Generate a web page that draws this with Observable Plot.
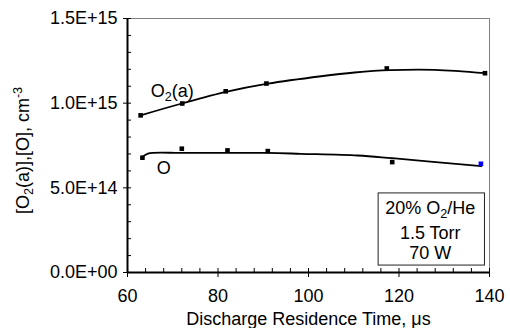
<!DOCTYPE html>
<html><head><meta charset="utf-8">
<script src="https://cdn.jsdelivr.net/npm/d3@7"></script>
<script src="https://cdn.jsdelivr.net/npm/@observablehq/plot@0.6"></script>
<style>body{margin:0;background:#fff}</style>
</head><body><div id="chart"></div>
<script>
// measured points
const o2aTime = [62.9, 72.1, 81.7, 90.7, 117.3, 139.0];
const o2aDensity = [9.28e14, 9.98e14, 10.70e14, 11.16e14, 12.05e14, 11.77e14];
const oTime = [63.3, 72.0, 82.1, 91.0, 118.5, 138.1];
const oDensity = [6.78e14, 7.31e14, 7.21e14, 7.17e14, 6.52e14, 6.42e14];
const oPointColor = ["black", "black", "black", "black", "black", "#0000ff"];
// trend curves
const o2aFitTime = [62.9, 72, 82, 91, 102.8, 110.2, 118, 127.9, 139.0];
const o2aFitValue = [9.28e14, 9.98e14, 10.68e14, 11.15e14, 11.59e14, 11.81e14, 11.95e14, 11.97e14, 11.77e14];
const oFitTime = [63.3, 64.5, 72, 82, 91, 98.3, 110.9, 118.5, 138.2];
const oFitValue = [6.81e14, 7.02e14, 7.06e14, 7.07e14, 7.06e14, 7.01e14, 6.91e14, 6.75e14, 6.28e14];
// ticks
const xTicks = [60, 80, 100, 120, 140];
const xMinorTicks = d3.range(60, 141, 4);
const yTicks = [0, 5e14, 1e15, 1.5e15];
const yMinorTicks = d3.range(0, 1.5e15 + 1, 1e14);
// annotations (data space)
const seriesLabels = [{x: 69.9, y: 10.72e14, text: "O2(a)"}, {x: 68.0, y: 6.14e14, text: "O"}];
const noteBox = [{x1: 115.5, x2: 139.0, y1: 0.41e14, y2: 4.67e14}];
const noteLines = [{x: 126.9, y: 3.77e14, text: "20% O2/He"}, {x: 126.9, y: 2.33e14, text: "1.5 Torr"}, {x: 126.9, y: 1.12e14, text: "70 W"}];

const o2aPts = o2aTime.map((t, i) => ({t, v: o2aDensity[i]}));
const oPts = oTime.map((t, i) => ({t, v: oDensity[i], c: oPointColor[i]}));
const o2aFit = o2aFitTime.map((t, i) => ({t, v: o2aFitValue[i]}));
const oFit = oFitTime.map((t, i) => ({t, v: oFitValue[i]}));

const fmtY = d => d === 0 ? "0.0E+00" : d.toExponential(1).toUpperCase();

const plot = Plot.plot({
  width: 510, height: 328,
  marginTop: 18, marginRight: 21, marginBottom: 56, marginLeft: 127,
  style: {fontSize: "18px", fontFamily: "'Liberation Sans', Arial, sans-serif", background: "white", overflow: "visible"},
  x: {domain: [60, 140]},
  y: {domain: [0, 1.5e15]},
  marks: [
    Plot.frame({stroke: "#808080"}),
    Plot.axisX({ticks: xMinorTicks, tickSize: 4, dy: -4, tickFormat: () => "", label: null}),
    Plot.axisY({ticks: yMinorTicks, tickSize: 4, dx: 4, tickFormat: () => "", label: null}),
    Plot.axisX({ticks: xTicks, tickSize: 5, tickPadding: 12, label: null, tickFormat: d => String(d)}),
    Plot.axisY({ticks: yTicks, tickSize: 4, tickPadding: 6, label: null, tickFormat: fmtY}),
    Plot.ruleX([60], {strokeWidth: 2}),
    Plot.ruleY([0], {strokeWidth: 2}),
    Plot.line(o2aFit, {x: "t", y: "v", curve: "catmull-rom", strokeWidth: 1.8, stroke: "black"}),
    Plot.line(oFit, {x: "t", y: "v", curve: "catmull-rom", strokeWidth: 1.8, stroke: "black"}),
    Plot.dot(o2aPts, {x: "t", y: "v", symbol: "square", r: 2.6, fill: "black"}),
    Plot.dot(oPts, {x: "t", y: "v", symbol: "square", r: 2.6, fill: d => d.c}),
    Plot.text(seriesLabels, {x: "x", y: "y", text: "text", textAnchor: "middle", lineAnchor: "middle"}),
    Plot.rect(noteBox, {x1: "x1", x2: "x2", y1: "y1", y2: "y2", fill: "white", stroke: "#222", strokeWidth: 1}),
    Plot.text(noteLines, {x: "x", y: "y", text: "text", textAnchor: "middle", lineAnchor: "middle"}),
    Plot.text(["Discharge Residence Time, μs"], {frameAnchor: "bottom", dy: 47.2, textAnchor: "middle", lineAnchor: "middle"}),
    Plot.text(["[O2(a)],[O], cm-3"], {frameAnchor: "left", dx: -104, dy: 5, rotate: -90, textAnchor: "middle", lineAnchor: "middle"})
  ]
});

function rich(svg, plain, parts) {
  svg.querySelectorAll("text").forEach(t => {
    if (t.textContent !== plain) return;
    while (t.firstChild) t.removeChild(t.firstChild);
    let shift = 0;
    parts.forEach(([s, kind]) => {
      const ts = document.createElementNS("http://www.w3.org/2000/svg", "tspan");
      const target = kind === "sub" ? 4 : kind === "sup" ? -7 : 0;
      ts.setAttribute("dy", target - shift);
      shift = target;
      if (kind) ts.setAttribute("font-size", "0.7em");
      ts.textContent = s;
      t.appendChild(ts);
    });
  });
}
rich(plot, "O2(a)", [["O"], ["2", "sub"], ["(a)"]]);
rich(plot, "20% O2/He", [["20% O"], ["2", "sub"], ["/He"]]);
rich(plot, "[O2(a)],[O], cm-3", [["[O"], ["2", "sub"], ["(a)],[O], cm"], ["-3", "sup"]]);

document.getElementById("chart").appendChild(plot);
</script>
</body></html>
